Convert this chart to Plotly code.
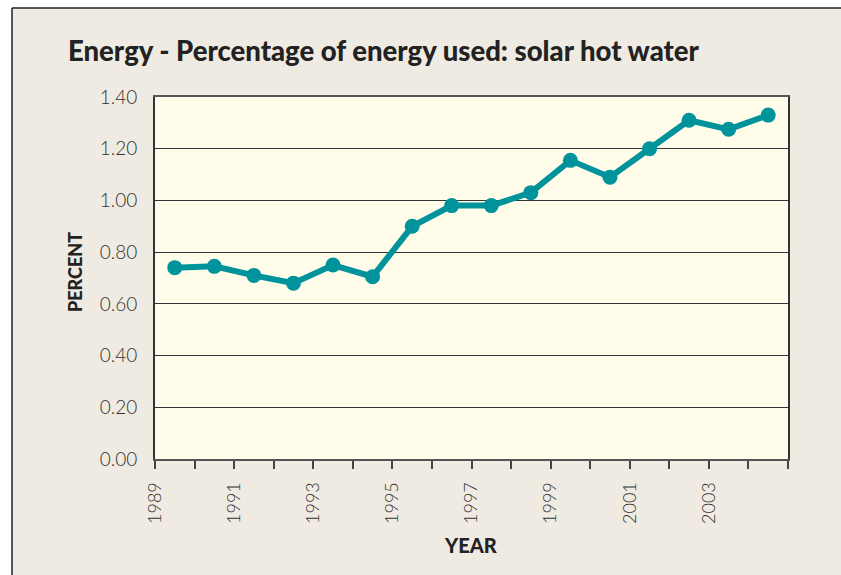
import plotly.graph_objects as go

years = list(range(1989, 2005))
percent = [0.74, 0.745, 0.71, 0.68, 0.75, 0.705, 0.90, 0.98, 0.98, 1.03, 1.155, 1.09, 1.20, 1.31, 1.275, 1.33]
tick_years = list(range(1989, 2006))
tick_labels = [str(y) if (y % 2 == 1 and y <= 2003) else "" for y in tick_years]
y_ticks = [0, 0.2, 0.4, 0.6, 0.8, 1.0, 1.2, 1.4]

W, H = 841, 575
ML, MR, MT, MB = 155, 53, 97, 116
PW, PH = W - ML - MR, H - MT - MB

def px(x):
    return (x - ML) / PW

def py(y):
    return (H - MB - y) / PH

teal = "#00939c"
beige = "#efebe2"
dark = "#333333"

fig = go.Figure()
fig.add_trace(go.Scatter(
    x=[y + 0.5 for y in years], y=percent,
    mode="lines+markers",
    line=dict(color=teal, width=6),
    marker=dict(color=teal, size=15),
    showlegend=False, hoverinfo="skip",
))

fig.update_layout(
    width=W, height=H,
    margin=dict(l=ML, r=MR, t=MT, b=MB),
    paper_bgcolor=beige,
    plot_bgcolor="#fffdea",
    xaxis=dict(
        range=[1989, 2005], tickmode="array", tickvals=tick_years, ticktext=tick_labels,
        tickangle=-90, ticks="outside", ticklen=8, tickwidth=2, tickcolor="#444444",
        showgrid=False, zeroline=False, showline=True, linecolor="#555555", linewidth=2,
        mirror=True, ticklabelstandoff=6,
        tickfont=dict(family="Lato", size=18, color="#333333", weight=300),
        fixedrange=True,
    ),
    yaxis=dict(
        range=[0, 1.4], tickmode="array", tickvals=y_ticks,
        ticktext=[f"{v:.2f}" for v in y_ticks],
        ticks="", showgrid=True, gridcolor=dark, gridwidth=1.4,
        zeroline=False, showline=True, linecolor="#333333", linewidth=2, mirror=True,
        ticklabelstandoff=12,
        tickfont=dict(family="Lato", size=19, color="#333333", weight=300),
        fixedrange=True,
    ),
    annotations=[
        dict(text="Energy - Percentage of energy used: solar hot water",
             xref="paper", yref="paper", x=px(66), y=py(50), xanchor="left", yanchor="middle",
             showarrow=False, font=dict(family="Lato", size=27.5, color="#222222", weight=900)),
        dict(text="PERCENT", xref="paper", yref="paper", x=px(75), y=py(272),
             xanchor="center", yanchor="middle", textangle=-90, showarrow=False,
             font=dict(family="Lato", size=18, color="#222222", weight=900)),
        dict(text="YEAR", xref="paper", yref="paper", x=px(471), y=py(545),
             xanchor="center", yanchor="middle", showarrow=False,
             font=dict(family="Lato", size=20, color="#222222", weight=900)),
    ],
    shapes=[
        dict(type="rect", xref="paper", yref="paper", x0=px(-5), x1=px(W + 5), y0=py(8), y1=py(-5),
             fillcolor="white", line=dict(width=0), layer="below"),
        dict(type="rect", xref="paper", yref="paper", x0=px(-5), x1=px(12), y0=py(H + 5), y1=py(-5),
             fillcolor="white", line=dict(width=0), layer="below"),
        dict(type="line", xref="paper", yref="paper", x0=px(12), x1=px(W + 5), y0=py(8), y1=py(8),
             line=dict(color="#222222", width=1.5)),
        dict(type="line", xref="paper", yref="paper", x0=px(12), x1=px(12), y0=py(8), y1=py(H + 5),
             line=dict(color="#222222", width=1.5)),
    ],
)

fig.write_html("out.html", config={"displayModeBar": False},
               post_script="document.body.style.margin='0';document.body.style.overflow='hidden';")
